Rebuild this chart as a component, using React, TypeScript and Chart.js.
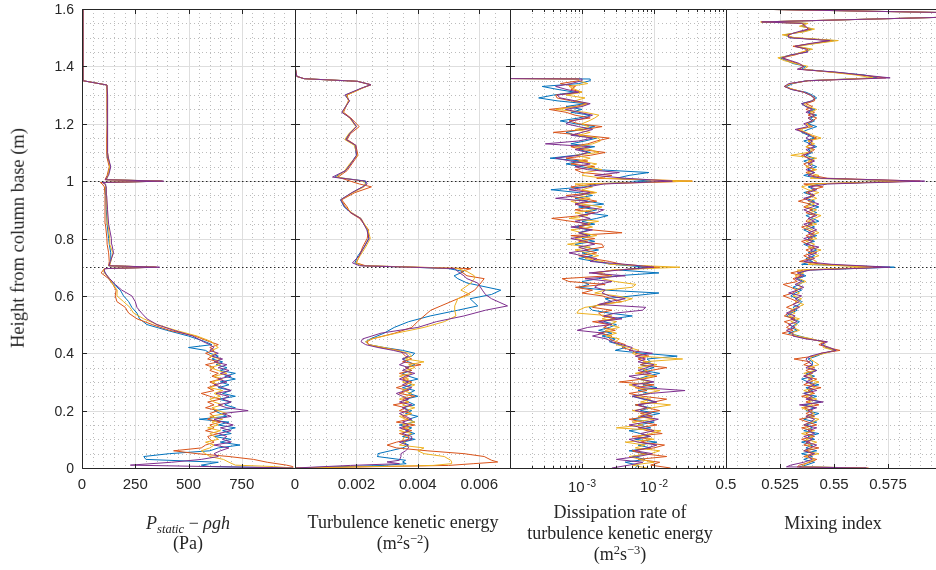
import React, { useEffect, useRef } from 'react';
import { Chart, registerables } from 'chart.js';

Chart.register(...registerables);

const SERIES_COLORS = ['#0072BD', '#D95319', '#EDB120', '#7E2F8E'];
const AXIS_COLOR = '#262626';
const SANS = '"Liberation Sans", Arial, Helvetica, sans-serif';
const SERIF = '"Liberation Serif", "Times New Roman", serif';

const HEIGHT_TICKS = [0, 0.2, 0.4, 0.6, 0.8, 1, 1.2, 1.4, 1.6];
const HEIGHT_TICK_LABELS = ['0', '0.2', '0.4', '0.6', '0.8', '1', '1.2', '1.4', '1.6'];
const HEIGHT_MINOR = [0.05, 0.1, 0.15, 0.25, 0.3, 0.35, 0.45, 0.5, 0.55, 0.65, 0.7, 0.75, 0.85, 0.9, 0.95, 1.05, 1.1, 1.15, 1.25, 1.3, 1.35, 1.45, 1.5, 1.55];
const REFERENCE_HEIGHTS = [0.7, 1.0];

// ---------- Panel 1 : P_static - rho g h (Pa) ----------
const P1_HEIGHT = [0, 0.005, 0.01, 0.02, 0.03, 0.04, 0.05, 0.06, 0.07, 0.08, 0.09, 0.1, 0.11, 0.12, 0.13, 0.14, 0.15, 0.16, 0.17, 0.18, 0.19, 0.2, 0.21, 0.22, 0.23, 0.24, 0.25, 0.26, 0.27, 0.28, 0.29, 0.3, 0.31, 0.32, 0.33, 0.34, 0.35, 0.36, 0.37, 0.38, 0.39, 0.4, 0.41, 0.42, 0.43, 0.44, 0.46, 0.48, 0.5, 0.52, 0.54, 0.56, 0.58, 0.6, 0.62, 0.64, 0.66, 0.68, 0.69, 0.695, 0.7, 0.705, 0.72, 0.75, 0.78, 0.8, 0.85, 0.9, 0.95, 0.98, 0.99, 0.995, 1, 1.005, 1.02, 1.05, 1.08, 1.1, 1.15, 1.2, 1.25, 1.3, 1.335, 1.35, 1.6];
const P1_BLUE = [990, 600, 560, 640, 300, 290, 410, 600, 640, 742, 650, 700,
  620, 700, 660, 720, 640, 690, 550, 680, 650, 620, 720, 670, 700, 640, 720, 660, 700, 640, 690, 650, 720, 670, 720, 650, 680, 630, 660, 610, 640, 600, 580, 500, 610,
  580, 500, 398, 305, 270, 258, 234, 219, 195, 180, 150, 125, 110, 100, 110, 340, 125, 133, 135, 128, 125, 118, 114, 112, 110, 112, 100, 375, 115, 120, 133, 122, 118, 118, 120, 118, 118, 117, 5, 5];
const P1_ORANGE = [990, 990, 960, 870, 805, 690, 540, 430, 560, 580, 620, 600,
  590, 640, 580, 620, 600, 650, 590, 620, 600, 640, 580, 620, 590, 650, 600, 560, 620, 590, 630, 600, 650, 610, 640, 600, 620, 580, 640, 590, 610, 580, 620, 600, 640,
  600, 530, 410, 330, 258, 219, 203, 164, 156, 160, 145, 125, 90, 100, 105, 350, 125, 128, 125, 118, 117, 110, 108, 108, 105, 95, 86, 370, 108, 118, 128, 118, 116, 116, 118, 117, 117, 117, 5, 5];
const P1_YELLOW = [990, 900, 720, 690, 664, 600, 580, 560, 600, 620, 580, 640,
  620, 600, 650, 590, 640, 610, 660, 600, 680, 640, 610, 660, 620, 600, 650, 620, 660, 600, 640, 610, 660, 620, 680, 640, 600, 650, 620, 650, 600, 630, 610, 640, 620,
  610, 540, 440, 352, 290, 242, 225, 195, 164, 165, 145, 130, 105, 100, 110, 345, 130, 135, 145, 130, 130, 122, 118, 114, 112, 110, 95, 378, 115, 122, 130, 125, 120, 119, 120, 119, 118, 117, 5, 5];
const P1_PURPLE = [990, 600, 227, 420, 560, 640, 620, 650, 690, 620, 700, 660,
  680, 640, 700, 650, 710, 660, 620, 700, 660, 780, 680, 640, 700, 660, 690, 630, 700, 660, 620, 680, 640, 700, 650, 690, 640, 680, 620, 660, 610, 640, 600, 620, 600,
  570, 520, 430, 352, 305, 280, 258, 250, 234, 187, 156, 130, 108, 105, 108, 364, 128, 133, 148, 140, 138, 125, 120, 116, 114, 108, 95, 383, 110, 125, 135, 124, 120, 120, 122, 120, 119, 117, 5, 5];
const P1_TICKS = [0, 250, 500, 750, 1000];
const P1_TICK_LABELS = ['0', '250', '500', '750', ''];
const P1_MINOR = [50, 100, 150, 200, 300, 350, 400, 450, 550, 600, 650, 700, 800, 850, 900, 950];

// ---------- Panel 2 : turbulence kinetic energy (x 1e-3 m2 s-2) ----------
const P2_HEIGHT = [0, 0.009, 0.015, 0.021, 0.027, 0.04, 0.05, 0.06, 0.07, 0.08, 0.09, 0.1, 0.11, 0.12, 0.13, 0.14, 0.15, 0.16, 0.17, 0.18, 0.19, 0.2, 0.21, 0.22, 0.23, 0.24, 0.25, 0.26, 0.27, 0.28, 0.29, 0.3, 0.31, 0.32, 0.33, 0.34, 0.35, 0.36, 0.37, 0.38, 0.39, 0.4, 0.41, 0.42, 0.43, 0.44, 0.45, 0.47, 0.49, 0.51, 0.53, 0.55, 0.565, 0.59, 0.605, 0.62, 0.645, 0.66, 0.67, 0.685, 0.695, 0.7, 0.705, 0.715, 0.74, 0.77, 0.8, 0.83, 0.87, 0.89, 0.91, 0.935, 0.96, 0.98, 0.99, 1, 1.014, 1.037, 1.06, 1.09, 1.125, 1.145, 1.165, 1.19, 1.22, 1.24, 1.28, 1.3, 1.325, 1.336, 1.348, 1.357, 1.365, 1.4, 1.6];
const P2_BLUE = [0, 2.9, 3.62, 3.5, 3.6, 2.68, 2.7, 3.1, 3.5, 3.7, 3.5, 3.9,
  3.5, 3.9, 3.6, 3.8, 3.4, 3.9, 3.7, 4.0, 3.6, 3.8, 3.5, 3.9, 3.7, 3.6, 4.0, 3.7, 3.9, 3.5, 3.8, 3.6, 4.0, 3.7, 3.5, 3.8, 3.6, 3.9, 3.7, 3.5, 3.8, 3.9,
  3.5, 2.9, 2.4, 2.3, 2.45, 2.9, 3.23, 3.7, 4.4, 5.3, 5.95, 5.7, 6.4, 6.7, 5.6, 5.3, 5.18, 5.5, 5.0, 3.8, 2.2, 1.95, 2.05, 2.25, 2.4, 2.36, 2.14, 1.82, 1.6, 1.48, 1.87, 2.2, 2.3, 2.3, 1.3, 1.65, 1.8, 2.0, 1.95, 1.65, 1.76, 2.0, 1.8, 1.54, 1.76, 1.65, 2.2, 2.47, 2.03, 0.3, 0.06, 0, 0];
const P2_ORANGE = [0, 5.0, 5.8, 6.6, 6.4, 6.16, 5.5, 4.3, 3.3, 3.0, 3.3, 3.7,
  3.7, 3.4, 3.8, 3.5, 3.9, 3.3, 3.7, 3.5, 3.8, 3.4, 3.6, 3.2, 3.7, 3.5, 3.9, 3.4, 3.7, 3.3, 3.6, 3.8, 3.5, 3.7, 3.4, 3.8, 3.6, 4.1, 3.5, 3.8, 3.6, 3.5,
  3.4, 2.8, 2.4, 2.35, 2.5, 3.25, 3.8, 3.99, 4.2, 4.42, 4.75, 5.3, 5.6, 5.85, 6.05, 6.16, 5.6, 5.4, 5.73, 4.0, 2.3, 2.0, 2.1, 2.2, 2.35, 2.4, 2.1, 1.8, 1.7, 1.52, 1.95, 2.49, 2.1, 1.8, 1.4, 1.7, 1.85, 2.05, 1.98, 1.7, 1.8, 2.09, 1.82, 1.58, 1.74, 1.7, 2.2, 2.47, 2.03, 0.3, 0.06, 0, 0];
const P2_YELLOW = [0, 4.5, 5.09, 5.1, 5.07, 4.86, 4.2, 4.0, 4.2, 3.4, 3.6, 3.5,
  3.6, 3.8, 3.4, 3.7, 3.5, 3.9, 3.6, 3.4, 3.8, 3.6, 3.9, 3.5, 3.7, 3.4, 3.6, 3.8, 3.5, 3.7, 3.9, 3.5, 3.7, 3.4, 3.8, 3.6, 3.9, 3.7, 4.2, 3.6, 3.8, 3.7,
  3.3, 2.9, 2.4, 2.3, 2.5, 3.3, 4.2, 4.86, 5.24, 5.2, 5.2, 5.3, 5.7, 5.4, 5.73, 5.84, 5.84, 5.6, 5.3, 3.9, 2.2, 1.98, 2.12, 2.3, 2.45, 2.38, 2.15, 1.85, 1.65, 1.5, 1.88, 2.25, 2.3, 2.2, 1.35, 1.62, 1.78, 2.03, 1.93, 1.62, 1.75, 1.98, 1.78, 1.55, 1.75, 1.68, 2.22, 2.47, 2.03, 0.3, 0.06, 0, 0];
const P2_PURPLE = [0, 1.8, 3.4, 3.0, 3.4, 3.45, 3.45, 3.6, 3.7, 3.65, 3.4, 3.8,
  3.8, 3.5, 3.7, 3.4, 3.7, 3.5, 3.8, 3.6, 3.4, 3.7, 3.5, 3.8, 3.4, 3.7, 3.5, 3.3, 3.6, 3.8, 3.5, 3.7, 3.4, 3.6, 3.9, 3.5, 3.7, 3.4, 3.6, 3.5, 3.7, 3.6,
  3.2, 2.7, 2.3, 2.15, 2.2, 2.8, 4.0, 4.6, 5.5, 6.2, 6.92, 6.4, 6.2, 6.1, 5.95, 5.6, 5.5, 5.3, 5.2, 3.77, 2.1, 1.87, 2.09, 2.25, 2.41, 2.34, 2.14, 1.82, 1.62, 1.49, 1.85, 2.2, 2.35, 2.3, 1.22, 1.65, 1.82, 2.0, 1.98, 1.66, 1.78, 2.0, 1.8, 1.52, 1.78, 1.62, 2.18, 2.47, 2.03, 0.3, 0.06, 0, 0];
const P2_TICKS = [0, 0.002, 0.004, 0.006];
const P2_TICK_LABELS = ['0', '0.002', '0.004', '0.006'];
const P2_MINOR = [0.0005, 0.001, 0.0015, 0.0025, 0.003, 0.0035, 0.0045, 0.005, 0.0055, 0.0065];

// ---------- Panel 3 : dissipation rate (x 1e-3 m2 s-3), log axis ----------
const P3_HEIGHT = [0, 0.01, 0.02, 0.03, 0.04, 0.05, 0.06, 0.07, 0.08, 0.09,
  0.1, 0.11, 0.12, 0.13, 0.14, 0.15, 0.16, 0.17, 0.18, 0.19,
  0.2, 0.21, 0.22, 0.23, 0.24, 0.25, 0.26, 0.27, 0.28, 0.29,
  0.3, 0.31, 0.32, 0.33, 0.34, 0.35, 0.36, 0.37, 0.38, 0.39,
  0.4, 0.41, 0.42, 0.43, 0.44, 0.45, 0.46, 0.47, 0.48, 0.49,
  0.5, 0.51, 0.52, 0.53, 0.54, 0.55, 0.56, 0.57, 0.58, 0.59,
  0.6, 0.61, 0.62, 0.63, 0.64, 0.65, 0.66, 0.67, 0.68, 0.69,
  0.7, 0.71, 0.72, 0.73, 0.74, 0.75, 0.76, 0.77, 0.78, 0.79,
  0.8, 0.81, 0.82, 0.83, 0.84, 0.85, 0.86, 0.87, 0.88, 0.89,
  0.9, 0.91, 0.92, 0.93, 0.94, 0.95, 0.96, 0.97, 0.98, 0.99,
  1, 1.01, 1.02, 1.03, 1.04, 1.05, 1.06, 1.07, 1.08, 1.09,
  1.1, 1.11, 1.12, 1.13, 1.14, 1.15, 1.16, 1.17, 1.18, 1.19,
  1.2, 1.21, 1.22, 1.23, 1.24, 1.25, 1.26, 1.27, 1.28, 1.29,
  1.3, 1.31, 1.32, 1.33, 1.34, 1.35, 1.356, 1.358, 1.6];
const P3_BLUE = [5.5, 6.0, 4.0, 7.5, 5.0, 8.0, 4.5, 9.0, 6.0, 11.0, 5.5, 8.5, 6.5, 4.5, 9.0, 6.0, 10.0, 5.0, 7.5, 12.0, 6.5, 9.0, 5.5, 10.5, 7.0, 5.0, 8.5, 6.0, 11.0, 7.0, 9.5, 6.0, 8.0, 12.0, 7.0, 10.0, 6.5, 9.0,
  8.0, 21.0, 7.0, 2.9, 4.0, 3.3, 2.4, 2.9,
  1.9, 2.6, 1.7, 2.4, 3.0, 2.0, 2.6, 5.0, 2.4, 1.4, 1.25, 1.9, 2.6, 2.1, 5.0, 11.7, 2.1, 0.9, 1.25, 1.0, 1.7, 3.0, 11.7, 3.3,
  8.0, 2.6, 1.5,
  0.9, 1.4, 1.0, 1.7, 1.1, 0.8, 1.5, 1.0, 1.3, 0.9, 1.25, 0.8, 1.5, 1.0, 1.6, 2.3, 1.1, 1.6, 0.9, 2.0, 1.2, 0.8, 1.4, 0.9, 0.37, 1.1, 1.6, 9.0, 3.0, 4.5, 8.5, 1.6, 1.0, 0.6, 1.0, 0.36, 0.8, 1.3, 0.9, 1.5, 0.7, 1.1, 1.6, 0.8, 0.6, 1.0, 1.5, 0.8, 0.5, 0.9, 1.3, 0.7, 1.0, 0.6, 1.1, 0.45, 0.25, 0.4, 0.8, 0.45, 0.28, 0.9, 1.3,
  1.3, 0.05, 0.05];
const P3_ORANGE = [17.0, 9.0, 12.0, 6.0, 15.0, 7.0, 5.0, 10.0, 14.0, 6.5, 9.0, 5.0, 13.0, 8.0, 6.0, 11.0, 7.0, 4.5, 9.5, 6.5, 12.0, 8.0, 5.5, 10.0, 15.0, 7.0, 4.5, 8.0, 5.5, 10.0, 3.3, 7.0, 11.0, 6.0, 9.0, 15.0, 6.5, 8.0,
  6.0, 8.5, 5.5, 5.0, 3.6, 4.0, 3.0, 2.4,
  2.6, 1.7, 2.9, 2.0, 2.4, 1.4, 2.9, 1.9, 1.7, 2.6, 1.4, 1.7, 3.6, 2.6, 1.9, 1.0, 1.4, 0.81, 2.1, 0.66, 0.53, 2.4, 1.4, 2.9,
  12.0, 3.6, 2.4,
  1.4, 0.9, 1.6, 1.1, 2.0, 1.9, 0.9, 1.5, 0.7, 3.6, 1.4, 0.9, 1.3, 0.7, 0.38, 1.0, 1.5, 0.8, 1.3, 0.8, 1.6, 1.0, 0.6, 1.5, 0.9, 0.7, 1.5, 34.0, 1.6, 2.6, 1.0, 0.8, 1.5, 0.7, 1.2, 0.6, 1.3, 2.1, 1.0, 0.7, 1.2, 1.6, 2.4, 1.0, 0.4, 1.1, 1.9, 0.9, 0.66, 1.3, 0.8, 0.6, 0.35, 0.8, 1.2, 0.7, 0.45, 0.43, 1.0, 0.7, 0.81, 0.5, 0.9,
  0.9, 0.05, 0.05];
const P3_YELLOW = [8.0, 5.0, 10.0, 6.5, 4.5, 9.0, 12.0, 5.5, 7.5, 4.0, 10.0, 6.0, 9.0, 12.5, 3.0, 7.0, 5.0, 10.0, 6.0, 8.5, 5.0, 9.5, 17.0, 6.5, 9.0, 5.5, 8.0, 12.0, 6.0, 4.5, 9.0, 6.0, 10.0, 5.5, 8.0, 6.0, 11.0, 7.0,
  25.0, 6.2, 5.0, 6.2, 4.5, 3.0, 2.9, 3.3,
  2.2, 3.0, 2.1, 3.3, 2.4, 3.0, 1.9, 2.6, 0.85, 0.9, 1.1, 2.1, 3.6, 5.0, 3.0, 1.5, 2.1, 5.0, 5.6, 2.9, 1.9, 2.6, 1.7, 2.6,
  23.0, 2.4, 1.9,
  1.1, 1.7, 1.2, 0.8, 1.3, 0.63, 1.2, 0.8, 1.6, 1.0, 0.7, 1.4, 1.0, 1.7, 0.66, 1.2, 0.8, 1.4, 1.9, 1.0, 0.7, 1.3, 0.9, 1.6, 1.0, 1.4, 0.8, 34.0, 2.0, 1.0, 1.1, 1.9, 1.2, 1.6, 0.9, 1.3, 0.8, 1.7, 1.3, 0.8, 1.4, 1.8, 1.7, 0.9, 1.3, 0.8, 1.25, 1.0, 1.25, 1.5, 1.72, 1.1, 0.43, 0.9, 1.2, 0.8, 1.1, 0.6, 1.0, 0.8, 0.66, 1.2, 0.9,
  0.9, 0.05, 0.05];
const P3_PURPLE = [2.6, 4.5, 7.0, 3.0, 6.0, 9.5, 5.5, 8.0, 11.0, 6.0, 4.5, 9.0, 6.5, 10.0, 7.0, 4.5, 8.0, 11.5, 6.5, 9.0, 5.5, 8.0, 6.0, 11.0, 7.5, 5.0, 9.0, 27.0, 7.0, 5.0, 10.0, 6.5, 4.5, 9.0, 6.0, 8.0, 10.0, 6.0,
  7.6, 5.5, 9.5, 4.5, 5.0, 3.6, 2.6, 2.2,
  1.4, 2.0, 0.86, 1.2, 2.6, 1.7, 3.6, 2.0, 2.9, 6.9, 7.7, 1.7, 2.4, 4.0, 2.4, 1.9, 2.1, 1.5, 1.7, 2.6, 1.1, 4.0, 1.25, 3.3,
  10.0, 4.0, 1.3,
  1.6, 1.0, 0.66, 1.2, 0.9, 1.5, 1.1, 0.7, 1.2, 0.9, 1.4, 0.7, 1.2, 0.8, 1.3, 0.9, 1.6, 2.0, 1.1, 0.8, 1.2, 0.43, 0.9, 1.3, 0.66, 1.2, 2.0, 18.0, 4.0, 1.5, 3.3, 1.2, 0.8, 1.3, 0.7, 0.43, 0.9, 1.2, 0.8, 1.3, 0.31, 0.9, 1.4, 0.7, 1.0, 1.4, 0.9, 0.6, 0.73, 1.1, 1.4, 0.9, 0.59, 1.0, 1.3, 0.8, 0.5, 0.45, 0.9, 0.6, 0.43, 0.7, 1.0,
  1.0, 0.05, 0.05];
const P3_TICKS = [1e-4, 1e-3, 1e-2, 1e-1];
const P3_TICK_LABELS = [
  { value: 1e-3, base: '10', exp: '-3' },
  { value: 1e-2, base: '10', exp: '-2' },
];
const P3_MINOR = [2e-4, 3e-4, 4e-4, 5e-4, 6e-4, 7e-4, 8e-4, 9e-4, 2e-3, 3e-3, 4e-3, 5e-3, 6e-3, 7e-3, 8e-3, 9e-3, 2e-2, 3e-2, 4e-2, 5e-2, 6e-2, 7e-2, 8e-2, 9e-2];

// ---------- Panel 4 : mixing index ----------
const P4_HEIGHT = [0, 0.004, 0.01, 0.02, 0.03, 0.04, 0.05, 0.06, 0.07, 0.08, 0.09,
  0.1, 0.11, 0.12, 0.13, 0.14, 0.15, 0.16, 0.17, 0.18, 0.19,
  0.2, 0.21, 0.22, 0.23, 0.24, 0.25, 0.26, 0.27, 0.28, 0.29,
  0.3, 0.31, 0.32, 0.33, 0.34, 0.35, 0.36, 0.37, 0.38, 0.39,
  0.4, 0.41, 0.42, 0.43, 0.44, 0.45, 0.46, 0.47, 0.48, 0.49,
  0.5, 0.51, 0.52, 0.53, 0.54, 0.55, 0.56, 0.57, 0.58, 0.59,
  0.6, 0.61, 0.62, 0.63, 0.64, 0.65, 0.66, 0.67, 0.68, 0.69,
  0.7, 0.71, 0.72, 0.73, 0.74, 0.75, 0.76, 0.77, 0.78, 0.79,
  0.8, 0.81, 0.82, 0.83, 0.84, 0.85, 0.86, 0.87, 0.88, 0.89,
  0.9, 0.91, 0.92, 0.93, 0.94, 0.95, 0.96, 0.97, 0.98, 0.99,
  1, 1.01, 1.02, 1.03, 1.04, 1.05, 1.06, 1.07, 1.08, 1.09,
  1.1, 1.11, 1.12, 1.13, 1.14, 1.15, 1.16, 1.17, 1.18, 1.19,
  1.2, 1.21, 1.22, 1.23, 1.24, 1.25, 1.26, 1.27, 1.28, 1.29,
  1.3, 1.31, 1.32, 1.33, 1.34, 1.35, 1.36, 1.37, 1.38, 1.39,
  1.4, 1.41, 1.42, 1.43, 1.44, 1.45, 1.46, 1.47, 1.48, 1.49,
  1.5, 1.51, 1.52, 1.53, 1.54, 1.55, 1.555, 1.575, 1.585, 1.6];
const P4_BLUE = [0.565, 0.534,
  0.537, 0.541, 0.536, 0.540, 0.535, 0.542, 0.537, 0.540, 0.535, 0.541, 0.538, 0.543, 0.536, 0.540, 0.537, 0.542, 0.536, 0.539, 0.543, 0.537, 0.541, 0.536, 0.544, 0.538, 0.542, 0.536, 0.540, 0.537, 0.543, 0.538, 0.535, 0.541, 0.537, 0.542, 0.538, 0.540,
  0.540, 0.538, 0.542, 0.545, 0.551, 0.546, 0.545, 0.545, 0.539, 0.534,
  0.529, 0.533, 0.530, 0.532, 0.534, 0.531, 0.528, 0.530, 0.533, 0.531, 0.534, 0.535, 0.533, 0.530, 0.532, 0.535, 0.531, 0.534, 0.536, 0.533, 0.537, 0.534, 0.538,
  0.578,
  0.535, 0.540, 0.537, 0.541, 0.538, 0.542, 0.539, 0.536, 0.541, 0.538, 0.542, 0.539, 0.536, 0.541, 0.538, 0.543, 0.540, 0.537, 0.542, 0.539, 0.543, 0.538, 0.541, 0.537, 0.540, 0.536, 0.541, 0.538, 0.543,
  0.585,
  0.542, 0.536, 0.541, 0.538, 0.542, 0.539, 0.536, 0.541, 0.537, 0.540, 0.538, 0.542, 0.539, 0.536, 0.541, 0.538, 0.535, 0.538, 0.542, 0.538, 0.541, 0.539, 0.542, 0.538, 0.541, 0.537, 0.535, 0.540, 0.542, 0.540, 0.537, 0.530, 0.528, 0.531, 0.537,
  0.570, 0.564, 0.550, 0.535, 0.537, 0.531, 0.528, 0.525, 0.530, 0.537, 0.539, 0.532, 0.541, 0.550, 0.530, 0.527, 0.535, 0.540, 0.535, 0.537,
  0.5165, 0.62, 0.62, 0.509];
const P4_ORANGE = [0.566, 0.533,
  0.534, 0.539, 0.542, 0.536, 0.540, 0.537, 0.543, 0.536, 0.539, 0.535, 0.541, 0.537, 0.540, 0.535, 0.542, 0.538, 0.534, 0.541, 0.537, 0.540, 0.536, 0.543, 0.537, 0.540, 0.535, 0.541, 0.538, 0.544, 0.536, 0.539, 0.542, 0.536, 0.540, 0.537, 0.541, 0.536,
  0.539, 0.5315, 0.541, 0.544, 0.5528, 0.547, 0.543, 0.546, 0.538, 0.532,
  0.526, 0.531, 0.528, 0.530, 0.527, 0.532, 0.527, 0.529, 0.532, 0.528, 0.531, 0.533, 0.530, 0.5265, 0.531, 0.533, 0.530, 0.5265, 0.533, 0.531, 0.535, 0.530, 0.536,
  0.572,
  0.545, 0.534, 0.539, 0.536, 0.540, 0.537, 0.541, 0.538, 0.535, 0.540, 0.537, 0.541, 0.538, 0.535, 0.540, 0.537, 0.5385, 0.541, 0.537, 0.540, 0.536, 0.539, 0.5335, 0.538, 0.541, 0.537, 0.540, 0.545, 0.536,
  0.590,
  0.547, 0.540, 0.537, 0.541, 0.538, 0.536, 0.540, 0.538, 0.535, 0.539, 0.541, 0.537, 0.540, 0.538, 0.542, 0.539, 0.536, 0.533, 0.540, 0.537, 0.540, 0.542, 0.538, 0.541, 0.537, 0.540, 0.537, 0.541, 0.541, 0.539, 0.536, 0.531, 0.527, 0.530, 0.538,
  0.574, 0.562, 0.549, 0.534, 0.536, 0.533, 0.529, 0.526, 0.532, 0.536, 0.538, 0.531, 0.540, 0.549, 0.531, 0.528, 0.534, 0.539, 0.536, 0.536,
  0.5165, 0.62, 0.62, 0.509];
const P4_YELLOW = [0.564, 0.535,
  0.536, 0.538, 0.541, 0.537, 0.543, 0.536, 0.540, 0.538, 0.542, 0.537, 0.540, 0.535, 0.541, 0.538, 0.536, 0.540, 0.543, 0.537, 0.541, 0.538, 0.535, 0.540, 0.538, 0.542, 0.537, 0.540, 0.536, 0.541, 0.539, 0.543, 0.538, 0.540, 0.536, 0.541, 0.538, 0.543,
  0.541, 0.539, 0.540, 0.546, 0.550, 0.545, 0.546, 0.544, 0.540, 0.533,
  0.530, 0.534, 0.531, 0.533, 0.530, 0.534, 0.529, 0.532, 0.530, 0.533, 0.536, 0.532, 0.535, 0.531, 0.534, 0.532, 0.535, 0.533, 0.537, 0.534, 0.532, 0.536, 0.533,
  0.568,
  0.538, 0.542, 0.539, 0.543, 0.540, 0.544, 0.538, 0.541, 0.537, 0.542, 0.539, 0.543, 0.540, 0.537, 0.542, 0.538, 0.541, 0.544, 0.539, 0.542, 0.537, 0.541, 0.538, 0.542, 0.539, 0.543, 0.538, 0.535, 0.540,
  0.586,
  0.539, 0.543, 0.538, 0.542, 0.537, 0.540, 0.538, 0.542, 0.530, 0.538, 0.540, 0.537, 0.541, 0.538, 0.544, 0.540, 0.537, 0.534, 0.539, 0.537, 0.540, 0.538, 0.541, 0.539, 0.542, 0.538, 0.536, 0.540, 0.541, 0.539, 0.536, 0.531, 0.527, 0.530, 0.538,
  0.568, 0.560, 0.548, 0.536, 0.538, 0.532, 0.527, 0.524, 0.531, 0.535, 0.540, 0.533, 0.542, 0.552, 0.532, 0.526, 0.536, 0.541, 0.534, 0.538,
  0.516, 0.62, 0.62, 0.509];
const P4_PURPLE = [0.565, 0.528,
  0.530, 0.536, 0.540, 0.538, 0.541, 0.536, 0.539, 0.542, 0.537, 0.540, 0.536, 0.541, 0.538, 0.542, 0.536, 0.539, 0.541, 0.537, 0.540, 0.538, 0.542, 0.534, 0.545, 0.537, 0.540, 0.536, 0.542, 0.538, 0.541, 0.537, 0.540, 0.536, 0.539, 0.542, 0.537, 0.540,
  0.538, 0.537, 0.539, 0.544, 0.551, 0.548, 0.544, 0.547, 0.537, 0.531,
  0.531, 0.528, 0.532, 0.529, 0.533, 0.530, 0.532, 0.528, 0.531, 0.534, 0.531, 0.534, 0.532, 0.535, 0.529, 0.533, 0.536, 0.532, 0.535, 0.532, 0.536, 0.533, 0.539,
  0.576,
  0.549, 0.536, 0.541, 0.538, 0.542, 0.539, 0.543, 0.537, 0.540, 0.536, 0.541, 0.538, 0.542, 0.539, 0.536, 0.541, 0.538, 0.542, 0.539, 0.536, 0.540, 0.543, 0.539, 0.536, 0.541, 0.538, 0.542, 0.539, 0.547,
  0.592,
  0.544, 0.538, 0.541, 0.537, 0.540, 0.538, 0.541, 0.538, 0.536, 0.539, 0.537, 0.541, 0.538, 0.540, 0.537, 0.539, 0.536, 0.532, 0.538, 0.536, 0.540, 0.538, 0.541, 0.537, 0.540, 0.537, 0.535, 0.540, 0.541, 0.539, 0.536, 0.530, 0.527, 0.529, 0.538,
  0.576, 0.563, 0.551, 0.533, 0.536, 0.534, 0.530, 0.526, 0.530, 0.538, 0.537, 0.532, 0.539, 0.548, 0.529, 0.529, 0.533, 0.538, 0.537, 0.535,
  0.5165, 0.62, 0.62, 0.509];
const P4_TICKS = [0.5, 0.525, 0.55, 0.575, 0.6];
const P4_TICK_LABELS = ['0.5', '0.525', '0.55', '0.575', ''];
const P4_MINOR = [0.505, 0.51, 0.515, 0.52, 0.53, 0.535, 0.54, 0.545, 0.555, 0.56, 0.565, 0.57, 0.58, 0.585, 0.59, 0.595];

type PanelCfg = {
  areaLeft: number;
  areaWidth: number;
  heights: number[];
  series: number[][];
  unit: number;
  xType: 'linear' | 'logarithmic';
  xMin: number;
  xMax: number;
  ticks: number[];
  tickLabels: string[];
  minor: number[];
  minorTickMarks: boolean;
  logLabels?: { value: number; base: string; exp: string }[];
  showY: boolean;
};

const PANELS: PanelCfg[] = [
  { areaLeft: 82, areaWidth: 213, heights: P1_HEIGHT, series: [P1_BLUE, P1_ORANGE, P1_YELLOW, P1_PURPLE], unit: 1, xType: 'linear', xMin: 0, xMax: 1000, ticks: P1_TICKS, tickLabels: P1_TICK_LABELS, minor: P1_MINOR, minorTickMarks: false, showY: true },
  { areaLeft: 295, areaWidth: 215, heights: P2_HEIGHT, series: [P2_BLUE, P2_ORANGE, P2_YELLOW, P2_PURPLE], unit: 1e-3, xType: 'linear', xMin: 0, xMax: 0.007, ticks: P2_TICKS, tickLabels: P2_TICK_LABELS, minor: P2_MINOR, minorTickMarks: false, showY: false },
  { areaLeft: 510, areaWidth: 216, heights: P3_HEIGHT, series: [P3_BLUE, P3_ORANGE, P3_YELLOW, P3_PURPLE], unit: 1e-3, xType: 'logarithmic', xMin: 1e-4, xMax: 1e-1, ticks: P3_TICKS, tickLabels: ['', '', '', ''], minor: P3_MINOR, minorTickMarks: true, logLabels: P3_TICK_LABELS, showY: false },
  { areaLeft: 726, areaWidth: 216, heights: P4_HEIGHT, series: [P4_BLUE, P4_ORANGE, P4_YELLOW, P4_PURPLE], unit: 1, xType: 'linear', xMin: 0.5, xMax: 0.6, ticks: P4_TICKS, tickLabels: P4_TICK_LABELS, minor: P4_MINOR, minorTickMarks: false, showY: false },
];

const CANVAS_H = 570;
const AREA_TOP = 9;
const AREA_BOTTOM = 468;

function makeDecor(cfg: PanelCfg) {
  return {
    id: 'matlabDecor',
    beforeDatasetsDraw(chart: any) {
      const { ctx, chartArea: a } = chart;
      const xs = chart.scales.x;
      const ys = chart.scales.y;
      const px = (v: number) => Math.round(xs.getPixelForValue(v)) + 0.5;
      const py = (v: number) => Math.round(ys.getPixelForValue(v)) + 0.5;
      ctx.save();
      ctx.lineWidth = 1;
      ctx.strokeStyle = '#bcbcbc';
      ctx.setLineDash([1, 3]);
      ctx.beginPath();
      for (const v of cfg.minor) { const x = px(v); ctx.moveTo(x, a.top); ctx.lineTo(x, a.bottom); }
      for (const v of HEIGHT_MINOR) { const y = py(v); ctx.moveTo(a.left, y); ctx.lineTo(a.right, y); }
      ctx.stroke();
      ctx.setLineDash([]);
      ctx.strokeStyle = '#dedede';
      ctx.beginPath();
      for (const v of cfg.ticks) { const x = px(v); ctx.moveTo(x, a.top); ctx.lineTo(x, a.bottom); }
      for (const v of HEIGHT_TICKS) { const y = py(v); ctx.moveTo(a.left, y); ctx.lineTo(a.right, y); }
      ctx.stroke();
      ctx.strokeStyle = AXIS_COLOR;
      ctx.setLineDash([1.5, 2.5]);
      ctx.beginPath();
      for (const h of REFERENCE_HEIGHTS) { const y = py(h); ctx.moveTo(a.left, y); ctx.lineTo(a.right, y); }
      ctx.stroke();
      ctx.restore();
    },
    afterDatasetsDraw(chart: any) {
      const { ctx, chartArea: a } = chart;
      const xs = chart.scales.x;
      const ys = chart.scales.y;
      const L = Math.round(a.left) + 0.5;
      const R = Math.round(a.right) + 0.5;
      const T = Math.round(a.top) + 0.5;
      const B = Math.round(a.bottom) + 0.5;
      ctx.save();
      ctx.strokeStyle = AXIS_COLOR;
      ctx.lineWidth = 1;
      ctx.beginPath();
      const major = 4.5;
      const minorLen = 2.5;
      for (const v of cfg.ticks) {
        const x = Math.round(xs.getPixelForValue(v)) + 0.5;
        ctx.moveTo(x, B); ctx.lineTo(x, B - major);
        ctx.moveTo(x, T); ctx.lineTo(x, T + major);
      }
      if (cfg.minorTickMarks) {
        for (const v of cfg.minor) {
          const x = Math.round(xs.getPixelForValue(v)) + 0.5;
          ctx.moveTo(x, B); ctx.lineTo(x, B - minorLen);
          ctx.moveTo(x, T); ctx.lineTo(x, T + minorLen);
        }
      }
      for (const v of HEIGHT_TICKS) {
        const y = Math.round(ys.getPixelForValue(v)) + 0.5;
        ctx.moveTo(L, y); ctx.lineTo(L + major, y);
        ctx.moveTo(R, y); ctx.lineTo(R - major, y);
      }
      ctx.moveTo(L, T); ctx.lineTo(R, T); ctx.lineTo(R, B); ctx.lineTo(L, B); ctx.closePath();
      ctx.stroke();
      ctx.restore();
    },
    afterDraw(chart: any) {
      const { ctx } = chart;
      const xs = chart.scales.x;
      const ys = chart.scales.y;
      ctx.save();
      ctx.fillStyle = AXIS_COLOR;
      ctx.textBaseline = 'alphabetic';
      // x tick labels
      ctx.font = `15px ${SANS}`;
      ctx.textAlign = 'center';
      cfg.ticks.forEach((v, i) => {
        const lab = cfg.tickLabels[i];
        if (lab) ctx.fillText(lab, xs.getPixelForValue(v), 488.5);
      });
      // log tick labels with superscript exponent
      if (cfg.logLabels) {
        ctx.textAlign = 'left';
        for (const lab of cfg.logLabels) {
          const x = xs.getPixelForValue(lab.value);
          ctx.font = `15px ${SANS}`;
          const w1 = ctx.measureText(lab.base).width;
          ctx.font = `10.5px ${SANS}`;
          const w2 = ctx.measureText(lab.exp).width;
          const gap = 2;
          const x0 = x - (w1 + gap + w2) / 2;
          ctx.font = `15px ${SANS}`;
          ctx.fillText(lab.base, x0, 491.5);
          ctx.font = `10.5px ${SANS}`;
          ctx.fillText(lab.exp, x0 + w1 + gap, 486.5);
        }
      }
      // y tick labels
      if (cfg.showY) {
        ctx.font = `14px ${SANS}`;
        ctx.textAlign = 'right';
        HEIGHT_TICKS.forEach((v, i) => {
          ctx.fillText(HEIGHT_TICK_LABELS[i], 74, ys.getPixelForValue(v) + 5);
        });
      }
      ctx.restore();
    },
  };
}

function Panel({ cfg }: { cfg: PanelCfg }) {
  const ref = useRef<HTMLCanvasElement>(null);
  const padL = cfg.showY ? cfg.areaLeft : 24;
  const padR = 24;
  const width = padL + cfg.areaWidth + padR;

  useEffect(() => {
    if (!ref.current) return;
    const datasets = cfg.series.map((vals, k) => ({
      label: `series ${k + 1}`,
      data: cfg.heights.map((h, i) => ({ x: vals[i] * cfg.unit, y: h })),
      borderColor: SERIES_COLORS[k],
      backgroundColor: SERIES_COLORS[k],
      borderWidth: 1,
      pointRadius: 0,
      showLine: true,
      fill: false,
      tension: 0,
      order: 4 - k,
    }));
    const chart = new Chart(ref.current, {
      type: 'scatter',
      data: { datasets },
      options: {
        animation: false,
        responsive: false,
        maintainAspectRatio: false,
        devicePixelRatio: 1,
        events: [],
        layout: { padding: { left: padL, right: padR, top: AREA_TOP, bottom: 0 } },
        plugins: { legend: { display: false }, tooltip: { enabled: false } },
        scales: {
          x: {
            type: cfg.xType,
            min: cfg.xMin,
            max: cfg.xMax,
            position: 'bottom',
            grid: { display: false, drawTicks: false },
            border: { display: false },
            afterBuildTicks: (s: any) => { s.ticks = cfg.ticks.map((v) => ({ value: v })); },
            afterFit: (s: any) => { s.height = CANVAS_H - AREA_BOTTOM; s.paddingLeft = 0; s.paddingRight = 0; },
            ticks: { display: false },
          },
          y: {
            type: 'linear',
            min: 0,
            max: 1.6,
            grid: { display: false, drawTicks: false },
            border: { display: false },
            afterBuildTicks: (s: any) => { s.ticks = HEIGHT_TICKS.map((v) => ({ value: v })); },
            afterFit: (s: any) => { s.width = 0; s.paddingTop = 0; s.paddingBottom = 0; },
            ticks: { display: false },
          },
        },
      } as any,
      plugins: [makeDecor(cfg)],
    });
    return () => chart.destroy();
  }, []);

  return (
    <canvas
      ref={ref}
      width={width}
      height={CANVAS_H}
      style={{ position: 'absolute', left: cfg.areaLeft - padL, top: 0, width, height: CANVAS_H, display: 'block' }}
    />
  );
}

const textBase: React.CSSProperties = {
  position: 'absolute',
  transform: 'translate(-50%, -50%)',
  whiteSpace: 'nowrap',
  fontFamily: SERIF,
  fontSize: 18,
  lineHeight: 1,
  color: AXIS_COLOR,
};
const at = (x: number, y: number): React.CSSProperties => ({ ...textBase, left: x, top: y });
const supStyle: React.CSSProperties = { fontSize: 12.5, position: 'relative', top: -6, verticalAlign: 'baseline' };
const subStyle: React.CSSProperties = { fontSize: 12.5, position: 'relative', top: 4, verticalAlign: 'baseline', fontStyle: 'italic' };

export default function App() {
  useEffect(() => {
    document.body.style.margin = '0';
  }, []);
  return (
    <div style={{ position: 'relative', width: 936, height: 570, overflow: 'hidden', background: '#ffffff' }}>
      <style>{'body{margin:0}'}</style>
      {PANELS.map((p, i) => (
        <Panel key={i} cfg={p} />
      ))}
      <div style={{ ...textBase, fontSize: 18.5, left: 18, top: 238, transform: 'translate(-50%, -50%) rotate(-90deg)' }}>
        Height from column base (m)
      </div>
      <div style={at(188, 523)}>
        <i>P</i>
        <span style={subStyle}>static</span> − <i>ρgh</i>
      </div>
      <div style={at(188, 543)}>(Pa)</div>
      <div style={at(403, 522)}>Turbulence kenetic energy</div>
      <div style={at(403, 543)}>
        (m<span style={supStyle}>2</span>s<span style={supStyle}>−2</span>)
      </div>
      <div style={at(620, 512)}>Dissipation rate of</div>
      <div style={at(620, 533)}>turbulence kenetic energy</div>
      <div style={at(620, 554)}>
        (m<span style={supStyle}>2</span>s<span style={supStyle}>−3</span>)
      </div>
      <div style={at(833, 523)}>Mixing index</div>
    </div>
  );
}
